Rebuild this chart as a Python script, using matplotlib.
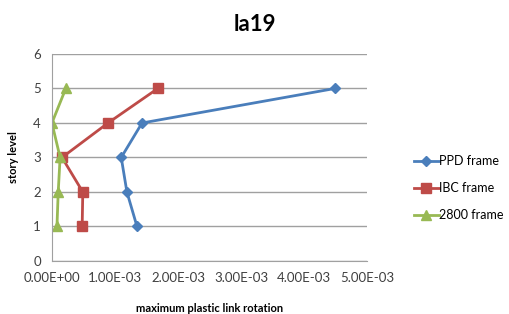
import matplotlib.pyplot as plt

plt.rcParams['font.family'] = ['Lato', 'DejaVu Sans']

levels = [1, 2, 3, 4, 5]
ppd = [1.35e-3, 1.19e-3, 1.10e-3, 1.43e-3, 4.49e-3]
ibc = [0.48e-3, 0.49e-3, 0.16e-3, 0.89e-3, 1.68e-3]
f2800 = [0.08e-3, 0.10e-3, 0.13e-3, 0.0, 0.22e-3]
xticks = [0, 1e-3, 2e-3, 3e-3, 4e-3, 5e-3]
xlabels = ['0.00E+00', '1.00E-03', '2.00E-03', '3.00E-03', '4.00E-03', '5.00E-03']

fig = plt.figure(figsize=(5.09, 3.14), dpi=100)
ax = fig.add_axes([0.102, 0.169, 0.619, 0.659])

ax.plot(ppd, levels, color='#4A7EBB', lw=2, marker='D', ms=5, label='PPD frame')
ax.plot(ibc, levels, color='#BE4B48', lw=2, marker='s', ms=7, label='IBC frame')
ax.plot(f2800, levels, color='#98B954', lw=2, marker='^', ms=7, label='2800 frame')

ax.set_xlim(0, 5e-3)
ax.set_ylim(0, 6)
ax.set_xticks(xticks)
ax.set_xticklabels(xlabels)
ax.set_yticks(range(7))
ax.tick_params(labelsize=9.5, length=0, colors='#404040', pad=8)
ax.grid(axis='y', color='#a0a0a0', lw=1)
ax.set_axisbelow(True)
for s in ['top', 'right']:
    ax.spines[s].set_visible(False)
for s in ['left', 'bottom']:
    ax.spines[s].set_color('#a0a0a0')

ax.set_xlabel('maximum plastic link rotation', fontsize=8, fontweight='bold', labelpad=14)
ax.set_ylabel('story level', fontsize=8, fontweight='bold', labelpad=10)
fig.suptitle('la19', fontsize=16, fontweight='bold', y=0.955)

fig.legend(loc='center left', bbox_to_anchor=(0.808, 0.40), frameon=False,
           fontsize=9, handlelength=2.0, handletextpad=0.0, labelspacing=1.2,
           borderaxespad=0.0, borderpad=0.2)

fig.savefig('out.png', dpi=100)
